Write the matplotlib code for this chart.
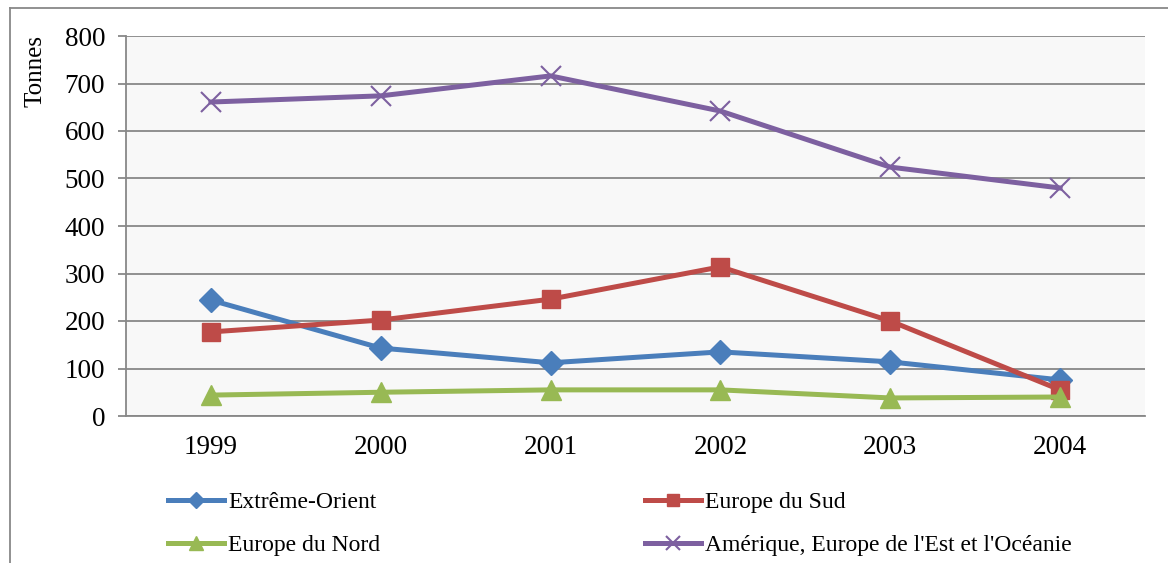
import matplotlib.pyplot as plt
from matplotlib.lines import Line2D

# ── Data ──────────────────────────────────────────────────────────────────────
years = ["1999", "2000", "2001", "2002", "2003", "2004"]
extreme_orient = [244, 143, 112, 135, 114, 76]
europe_sud = [177, 202, 246, 314, 200, 55]
europe_nord = [44, 50, 55, 55, 38, 40]
amerique_est_oceanie = [661, 674, 716, 642, 524, 480]

labels = ["Extrême-Orient", "Europe du Nord", "Europe du Sud",
          "Amérique, Europe de l'Est et l'Océanie"]

plt.rcParams["font.family"] = ["Liberation Serif", "DejaVu Serif"]
GRID = "#888888"

fig = plt.figure(figsize=(11.68, 5.63), dpi=100)
ax = fig.add_axes([126 / 1168, 1 - 416 / 563, (1145 - 126) / 1168, 380 / 563])
ax.set_facecolor("#f8f8f8")

x = range(len(years))
lw = 3.6
h_blue, = ax.plot(x, extreme_orient, color="#4a7ebb", lw=lw, marker="D", ms=12)
h_red, = ax.plot(x, europe_sud, color="#be4b48", lw=lw, marker="s", ms=13)
h_green, = ax.plot(x, europe_nord, color="#98b954", lw=lw, marker="^", ms=15)
h_purple, = ax.plot(x, amerique_est_oceanie, color="#7d60a0", lw=lw,
                    marker="x", ms=14, mew=1.5)

ax.set_xlim(-0.5, len(years) - 0.5)
ax.set_ylim(0, 800)
ax.set_yticks(range(0, 801, 100))
ax.set_xticks(list(x))
ax.set_xticklabels(years)
ax.yaxis.grid(True, color=GRID, lw=1.3)
ax.set_axisbelow(True)
for s in ("top", "right"):
    ax.spines[s].set_visible(False)
for s in ("left", "bottom"):
    ax.spines[s].set_color(GRID)
    ax.spines[s].set_linewidth(1.3)
ax.tick_params(axis="y", length=6, width=1.3, color=GRID, pad=9, labelsize=19.5)
ax.tick_params(axis="x", length=0, pad=14, labelsize=19.5)

fig.text(36 / 1168, 1 - 71 / 563, "Tonnes", rotation=90, ha="center",
         va="center", fontsize=18)

# outer chart frame (top and left edges)
fig.add_artist(Line2D([10 / 1168, 1], [1 - 8 / 563] * 2, color=GRID, lw=1.3))
fig.add_artist(Line2D([10 / 1168] * 2, [0, 1 - 8 / 563], color=GRID, lw=1.3))

fig.legend([h_blue, h_green, h_red, h_purple], labels, ncol=2, frameon=False,
           loc="upper left", bbox_to_anchor=(147 / 1168, 1 - 470 / 563),
           fontsize=17, handlelength=2.35, handletextpad=0.2,
           columnspacing=11.2, labelspacing=0.92, markerscale=0.7)

fig.savefig("out.png", dpi=100)
